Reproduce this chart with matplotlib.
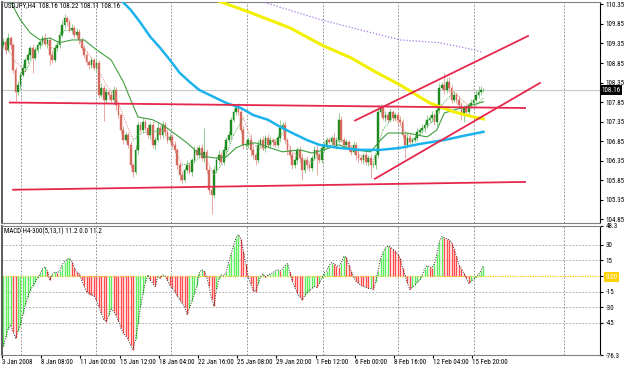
import numpy as np
import matplotlib
matplotlib.use('Agg')
import matplotlib.pyplot as plt
import matplotlib.transforms as mtransforms
from matplotlib import font_manager

# --- price data (H4 bars) ---
first_open = 109.31
closes = [
    109.39, 109.19, 109.49, 109.31,
    108.67, 108.11, 108.29,
    108.55, 108.73, 108.93, 109.06,
    109.24, 108.98, 109.19, 109.31,
    109.39, 109.49, 109.34, 109.44,
    109.06, 108.93, 109.24, 109.31,
    109.57, 109.83, 110.00, 109.90,
    109.70, 109.75, 109.57, 109.65,
    109.44, 109.24, 109.06, 108.88,
    108.80, 108.93, 108.73, 108.85,
    108.04, 108.22, 107.91, 108.11,
    108.04, 107.91, 108.16, 107.78,
    107.52, 107.14, 106.88, 107.01,
    106.76, 106.24, 106.07, 106.63,
    107.27, 107.14, 107.34, 107.19,
    107.01, 107.27, 106.76, 106.88,
    107.19, 107.01, 107.27, 107.09,
    106.88, 106.96, 106.76, 106.63,
    106.24, 105.99, 105.86, 106.12,
    106.24, 106.07, 106.37, 106.63,
    106.50, 106.68, 106.42, 106.58,
    106.12, 105.61, 105.48, 106.12,
    106.37, 106.50, 106.32, 106.63,
    106.88, 107.01, 107.40, 107.60,
    107.70, 107.60, 107.14, 106.76,
    106.76, 106.88, 106.63, 106.50,
    106.37, 106.76, 106.88, 106.68,
    106.94, 106.76, 106.88, 106.83,
    106.76, 106.94, 107.19, 107.27,
    106.88, 106.63, 106.50, 106.24,
    106.37, 106.63, 106.42, 106.12,
    106.37, 106.24, 106.17, 106.42,
    106.63, 106.50, 106.37, 106.68,
    106.76, 106.88, 106.83, 106.94,
    106.76, 106.88, 107.40, 106.88,
    106.76, 106.83, 106.68, 106.58,
    106.76, 106.50, 106.42, 106.37,
    106.50, 106.32, 106.42, 106.24,
    106.24, 106.50, 107.60, 107.70,
    107.45, 107.52, 107.40, 107.60,
    107.45, 107.52, 107.40, 107.34,
    107.01, 106.76, 106.94, 106.83,
    106.88, 106.94, 107.09, 107.14,
    107.19, 107.27, 107.40, 107.45,
    107.52, 107.34, 107.65, 108.22,
    108.29, 108.16, 108.37, 108.22,
    107.91, 108.04, 107.91, 107.78,
    107.52, 107.70, 107.60, 107.78,
    107.83, 107.91, 108.04, 108.11,
    108.16, 108.16,
]
wick_hi = [
    0.10, 0.08, 0.12, 0.06, 0.05, 0.08, 0.10, 0.07, 0.09, 0.06,
    0.08, 0.05, 0.10, 0.07, 0.09, 0.06, 0.08, 0.12, 0.05, 0.07,
    0.10, 0.06, 0.08, 0.09, 0.12, 0.11, 0.06, 0.08, 0.10, 0.07,
    0.09, 0.06, 0.08, 0.07, 0.10, 0.05, 0.08, 0.06, 0.09, 0.07,
    0.12, 0.08, 0.10, 0.06, 0.09, 0.11, 0.07, 0.08, 0.06, 0.10,
    0.08, 0.07, 0.09, 0.06, 0.12, 0.10, 0.08, 0.11, 0.07, 0.09,
    0.06, 0.10, 0.08, 0.12, 0.07, 0.09, 0.06, 0.08, 0.10, 0.07,
    0.09, 0.06, 0.08, 0.10, 0.07, 0.12, 0.08, 0.06, 0.09, 0.10,
    0.08, 0.11, 0.60, 0.07, 0.09, 0.06, 0.10, 0.08, 0.12, 0.07,
    0.09, 0.08, 0.10, 0.07, 0.11, 0.09, 0.13, 0.08, 0.10, 0.12,
    0.07, 0.15, 0.09, 0.06, 0.12, 0.08, 0.10, 0.07, 0.09, 0.11,
    0.06, 0.08, 0.10, 0.21, 0.07, 0.09, 0.06, 0.12, 0.08, 0.10,
    0.07, 0.09, 0.11, 0.06, 0.10, 0.08, 0.07, 0.09, 0.12, 0.06,
    0.08, 0.10, 0.07, 0.09, 0.06, 0.11, 0.08, 0.17, 0.10, 0.07,
    0.09, 0.06, 0.08, 0.10, 0.07, 0.12, 0.08, 0.06, 0.09, 0.07,
    0.10, 0.08, 0.06, 0.12, 0.09, 0.07, 0.10, 0.08, 0.11, 0.06,
    0.09, 0.07, 0.10, 0.08, 0.06, 0.12, 0.09, 0.07, 0.08, 0.10,
    0.06, 0.09, 0.07, 0.11, 0.08, 0.10, 0.06, 0.09, 0.12, 0.08,
    0.31, 0.10, 0.12, 0.07, 0.09, 0.06, 0.10, 0.08, 0.07, 0.09,
    0.06, 0.10, 0.08, 0.12, 0.15, 0.09, 0.06,
]
wick_lo = [
    0.08, 0.10, 0.06, 0.09, 0.07, 0.23, 0.08, 0.10, 0.06, 0.09,
    0.07, 0.10, 0.38, 0.06, 0.08, 0.09, 0.07, 0.05, 0.10, 0.26,
    0.08, 0.06, 0.09, 0.07, 0.05, 0.08, 0.10, 0.06, 0.09, 0.07,
    0.08, 0.10, 0.06, 0.09, 0.07, 0.11, 0.08, 0.06, 0.10, 0.09,
    0.07, 0.55, 0.08, 0.10, 0.06, 0.09, 0.12, 0.07, 0.08, 0.10,
    0.06, 0.09, 0.08, 0.13, 0.07, 0.10, 0.06, 0.08, 0.09, 0.07,
    0.10, 0.08, 0.12, 0.06, 0.09, 0.07, 0.10, 0.08, 0.06, 0.09,
    0.07, 0.10, 0.15, 0.08, 0.06, 0.09, 0.07, 0.10, 0.08, 0.06,
    0.09, 0.07, 0.10, 0.08, 0.12, 0.50, 0.09, 0.07, 0.10, 0.06,
    0.08, 0.09, 0.07, 0.10, 0.06, 0.08, 0.09, 0.07, 0.10, 0.12,
    0.08, 0.15, 0.10, 0.12, 0.07, 0.09, 0.06, 0.10, 0.08, 0.07,
    0.09, 0.06, 0.08, 0.10, 0.07, 0.09, 0.12, 0.08, 0.10, 0.07,
    0.09, 0.11, 0.26, 0.08, 0.10, 0.07, 0.09, 0.06, 0.51, 0.08,
    0.07, 0.10, 0.08, 0.06, 0.09, 0.07, 0.10, 0.08, 0.06, 0.09,
    0.07, 0.10, 0.08, 0.06, 0.12, 0.09, 0.07, 0.10, 0.08, 0.11,
    0.33, 0.08, 0.10, 0.07, 0.09, 0.06, 0.10, 0.08, 0.07, 0.09,
    0.06, 0.10, 0.08, 0.07, 0.35, 0.09, 0.07, 0.10, 0.06, 0.08,
    0.09, 0.07, 0.10, 0.08, 0.06, 0.09, 0.07, 0.10, 0.08, 0.06,
    0.09, 0.07, 0.10, 0.08, 0.06, 0.09, 0.07, 0.12, 0.18, 0.08,
    0.10, 0.07, 0.09, 0.06, 0.08, 0.07, 0.06,
]

# moving averages, sampled at bar indices
cyan_idx = [46, 48, 52, 56, 60, 64, 68, 72, 76, 80, 86, 91, 97, 102, 108, 113, 118,
            124, 129, 137, 146, 154, 162, 170, 180, 188, 196]
cyan_val = [110.58, 110.46, 110.21, 109.88, 109.52, 109.24, 108.93, 108.60, 108.37,
            108.16, 107.98, 107.83, 107.70, 107.52, 107.40, 107.22, 107.06, 106.88,
            106.76, 106.68, 106.63, 106.63, 106.68, 106.78, 106.88, 106.99, 107.09]
yellow_idx = [84, 100, 117, 130, 142, 152, 162, 174, 184, 192, 196]
yellow_val = [110.52, 110.16, 109.75, 109.31, 108.98, 108.62, 108.29, 107.83, 107.60,
              107.47, 107.42]
purple_idx = [103, 106, 130, 162, 178, 192, 196]
purple_val = [110.49, 110.41, 109.95, 109.44, 109.37, 109.19, 109.12]
green_idx = [3, 7, 11, 15, 19, 23, 28, 33, 38, 44, 49, 52, 55, 61, 65, 69, 75, 79, 83, 87,
             91, 95, 98, 103, 109, 114, 121, 126, 131, 137, 143, 150, 154, 157, 165, 173,
             177, 180, 184, 189, 196]
green_val = [110.41, 109.95, 109.62, 109.44, 109.49, 109.37, 109.44, 109.44, 109.19,
             108.93, 108.37, 107.91, 107.47, 107.40, 107.27, 107.09, 106.81, 106.58,
             106.45, 106.42, 106.45, 106.68, 106.76, 106.81, 106.68, 106.58, 106.63,
             106.55, 106.63, 106.76, 106.63, 106.58, 106.88, 107.06, 107.06, 106.96,
             107.14, 107.57, 107.65, 107.73, 107.86]
dot_idx = [1, 5, 9, 13, 17, 21, 25, 29, 33, 37, 42, 46, 50, 53, 57, 61, 65, 69, 73, 77,
           82, 86, 90, 94, 98, 102, 106, 110, 114, 118, 122, 126, 130, 135, 139, 143,
           147, 151, 155, 159, 163, 167, 171, 175, 179, 184, 188, 192, 196]
dot_val = [109.31, 108.88, 108.62, 109.14, 109.39, 109.19, 109.70, 109.70, 109.24,
           108.88, 108.29, 107.98, 107.34, 106.88, 107.09, 107.09, 107.14, 106.83,
           106.24, 106.30, 106.50, 105.99, 106.32, 107.01, 107.45, 106.76, 106.63,
           106.83, 107.06, 106.58, 106.37, 106.32, 106.58, 106.81, 106.88, 106.68,
           106.42, 106.32, 107.14, 107.47, 107.19, 106.88, 107.09, 107.34, 107.78,
           108.11, 107.86, 107.70, 107.96]

# hand drawn lines (bar index, price)
hline_top = ([2.7, 213.0], [107.84, 107.70])
hline_bot = ([4.0, 213.0], [105.61, 105.81])
chan_up = ([143.6, 214.2], [107.38, 109.54])
chan_dn = ([151.7, 219.1], [105.89, 108.34])

bid = 108.16
header = 'USDJPY,H4  108.16 108.22 108.11 108.16'

# MACD(5,13,1) histogram
macd = [
    -68, -59, -51, -47, -54, -60, -53, -47, -37, -28,
    -20, -14, -10, -6, -2, 2, 7, 9, 5, -4,
    2, 4, 3, 5, 11, 14, 16, 17, 14, 8,
    4, 2, -4, -10, -15, -17, -18, -19, -23, -30,
    -36, -42, -44, -38, -32, -34, -38, -43, -50, -55,
    -58, -61, -67, -71, -61, -46, -30, -17, -6, 1,
    -4, -7, -10, -1, -2, 1, 0, -4, -9, -12,
    -15, -19, -23, -26, -30, -37, -31, -24, -17, -10,
    3, 6, 5, -1, -10, -22, -29, -13, -3, 1,
    0, 4, 13, 21, 29, 37, 40, 36, 24, 12,
    -1, -8, -14, -15, -8, -1, 2, -1, 1, 2,
    3, 5, 6, 5, 7, 10, 12, 4, -5, -11,
    -16, -20, -23, -19, -16, -14, -12, -10, -11, -7,
    -2, 3, 5, 10, 13, 12, 10, 9, 13, 19,
    18, 11, 5, -1, -5, -7, -9, -10, -11, -12,
    -12, -13, -6, 5, 17, 23, 27, 29, 28, 26,
    24, 21, 17, 8, 1, -7, -13, -11, -9, -6,
    -4, 1, 7, 10, 9, 8, 12, 21, 33, 38,
    37, 36, 35, 32, 26, 19, 11, 7, 3, -2,
    -7, -5, -3, -1, 2, 5, 10,
]
macd_title = 'MACD H4-300(5,13,1) 11.2 0.0 11.2'
macd_ticks = [48.3, 30, 15, 0, -15, -30, -45, -76.3]
macd_labels = ['48.3', '30', '15', '0.00', '-15', '-30', '-45', '-76.3']
price_ticks = [110.35, 109.85, 109.35, 108.85, 108.35, 107.85, 107.35, 106.85,
               106.35, 105.85, 105.35, 104.85]
time_labels = ['3 Jan 2008', '8 Jan 08:00', '11 Jan 00:00', '15 Jan 12:00',
               '18 Jan 04:00', '22 Jan 16:00', '25 Jan 08:00', '29 Jan 20:00',
               '1 Feb 12:00', '6 Feb 00:00', '8 Feb 16:00', '12 Feb 04:00',
               '15 Feb 20:00']


def pick_font(names):
    for name in names:
        try:
            font_manager.findfont(name, fallback_to_default=False)
            return name
        except ValueError:
            continue
    return 'DejaVu Sans'


FONT = pick_font(['Liberation Sans Narrow', 'DejaVu Sans Condensed',
                  'Roboto Condensed', 'Liberation Sans', 'DejaVu Sans'])
plt.rcParams['font.family'] = [FONT, 'DejaVu Sans']
FS = 5 if FONT in ('Liberation Sans Narrow', 'DejaVu Sans Condensed',
                   'Roboto Condensed') else 4.4

W, H = 625, 368
GRID_X = [7.1, 37.9, 68.6, 99.6, 130.6, 161.3, 192.1, 229.1]


def style_frame(ax):
    for side in ['top', 'bottom']:
        ax.spines[side].set_color('#808080')
        ax.spines[side].set_linewidth(0.8)
    ax.spines['left'].set_color('#404040')
    ax.spines['left'].set_linewidth(1.2)
    ax.spines['right'].set_color('black')
    ax.spines['right'].set_linewidth(0.8)
    ax.yaxis.tick_right()
    ax.tick_params(axis='y', labelsize=FS, length=2, pad=2, colors='black')
    for gx in GRID_X:
        ax.axvline(gx, color='#808080', ls=(0, (2, 2)), lw=0.6, zorder=0)


def draw_candles(ax):
    idx = np.arange(len(closes))
    c = np.array(closes)
    o = np.array([first_open] + closes[:-1])
    up = c >= o
    highs = np.maximum(o, c) + np.array(wick_hi)
    lows = np.minimum(o, c) - np.array(wick_lo)
    ax.vlines(idx[up], lows[up], highs[up], color='#8fcf8f', lw=0.7, zorder=2)
    ax.vlines(idx[~up], lows[~up], highs[~up], color='#eaa8a0', lw=0.7, zorder=2)
    ax.bar(idx[up], (c - o)[up], bottom=o[up], width=0.7, color='#1f8a1f',
           edgecolor='#1f8a1f', lw=0.3, zorder=3)
    ax.bar(idx[~up], (c - o)[~up], bottom=o[~up], width=0.7, color='#d4695e',
           edgecolor='#d4695e', lw=0.3, zorder=3)


def draw_main(ax):
    style_frame(ax)
    ax.axhline(bid, color='#c8c8c8', lw=0.8, zorder=1)
    draw_candles(ax)

    # short MA, dotted, coloured by direction
    for k in range(len(dot_idx) - 1):
        col = '#4fa84f' if dot_val[k + 1] >= dot_val[k] else '#e08a80'
        ax.plot(dot_idx[k:k + 2], dot_val[k:k + 2], color=col, ls=(0, (1, 1.2)),
                lw=0.7, zorder=4)
    ax.plot(green_idx, green_val, color='#3f9f3f', lw=0.8, zorder=4)
    ax.plot(purple_idx, purple_val, color='#a57ae6', ls=(0, (1, 1.5)), lw=0.9, zorder=4)
    ax.plot(cyan_idx, cyan_val, color='#1cb2ee', lw=1.8, zorder=4)
    ax.plot(yellow_idx, yellow_val, color='#f2f000', lw=2.2, zorder=4)

    for xs, ys in [hline_top, hline_bot, chan_up, chan_dn]:
        ax.plot(xs, ys, color='#e6274c', lw=1.3, zorder=5)

    ax.set_ylim(104.76, 110.41)
    ax.set_yticks(price_ticks)
    ax.set_yticklabels(['%.2f' % p for p in price_ticks])
    ax.tick_params(axis='x', which='both', bottom=False, labelbottom=False)

    tr = mtransforms.blended_transform_factory(ax.transAxes, ax.transData)
    ax.text(1.003, bid, '%.2f' % bid, transform=tr, ha='left', va='center',
            fontsize=FS, color='white', zorder=10,
            bbox=dict(facecolor='black', edgecolor='none', pad=0.9))


def draw_macd(ax):
    style_frame(ax)
    for lvl in [30, 15, -15, -30, -45]:
        ax.axhline(lvl, color='#a0a0a0', ls=(0, (2, 2)), lw=0.6, zorder=0)
    ax.axhline(0, color='#ffc400', ls=(0, (1, 1)), lw=0.9, zorder=1)

    idx = np.arange(len(macd))
    cols = []
    for k in range(len(macd)):
        if k == 0 or macd[k] >= macd[k - 1]:
            cols.append('#5cee5c')
        else:
            cols.append('#ff4c4c')
    ax.vlines(idx, 0, macd, colors=cols, lw=1.0, zorder=2)
    ax.plot(idx, macd, color='#303030', ls=(0, (1, 1.5)), lw=0.7, zorder=3)

    ax.set_ylim(-76.3, 48.3)
    ax.set_yticks(macd_ticks)
    ax.set_yticklabels(macd_labels)
    for lbl in ax.get_yticklabels():
        if lbl.get_text() == '0.00':
            lbl.set_color('white')
            lbl.set_bbox(dict(facecolor='#ffd000', edgecolor='none', pad=0.8))

    ticks = np.arange(len(time_labels)) * 16 - 0.5
    ax.set_xticks(ticks)
    ax.set_xticklabels(time_labels, ha='left')
    ax.tick_params(axis='x', labelsize=FS, length=2, pad=1, colors='black')


fig = plt.figure(figsize=(W / 100, H / 100), dpi=100)
ax1 = fig.add_axes([2 / W, 1 - 223 / H, 598 / W, 221 / H])
ax2 = fig.add_axes([2 / W, 1 - 355 / H, 598 / W, 129 / H], sharex=ax1)

draw_main(ax1)
draw_macd(ax2)
ax1.set_xlim(-0.53, 243.6)

fig.text(4 / W, 1 - 6 / H, header, fontsize=FS, va='center', ha='left')
fig.text(4 / W, 1 - 231 / H, macd_title, fontsize=FS, va='center', ha='left')

fig.savefig('out.png', dpi=100, facecolor='white')
